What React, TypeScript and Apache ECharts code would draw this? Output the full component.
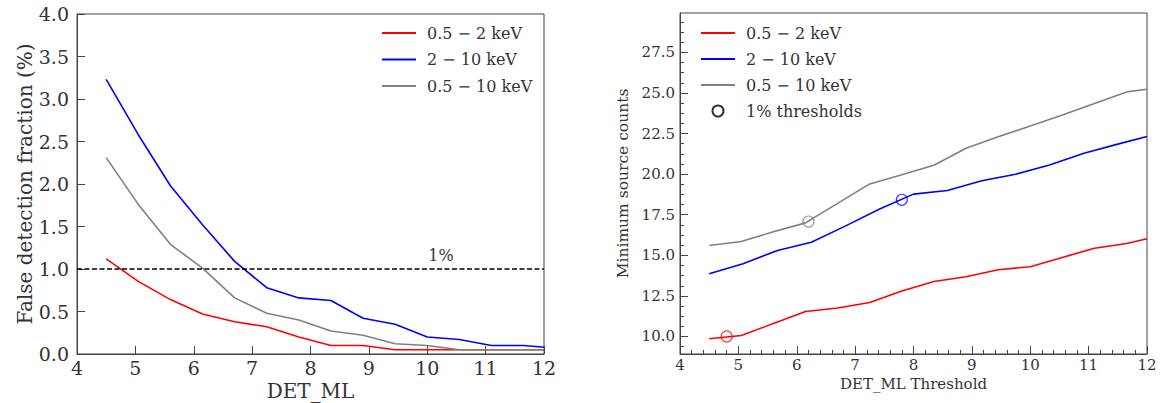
import React, { useEffect, useRef } from "react";
import * as echarts from "echarts";

// ---- Data (left panel: false detection fraction, %) ----
const xGrid = [4.5, 5.05, 5.6, 6.15, 6.7, 7.25, 7.8, 8.35, 8.9, 9.45, 10.0, 10.55, 11.1, 11.65, 12.0];
const fracSoft = [1.12, 0.855, 0.64, 0.47, 0.38, 0.32, 0.2, 0.1, 0.1, 0.05, 0.05, 0.05, 0.05, 0.05, 0.05];
const fracHard = [3.23, 2.58, 1.98, 1.52, 1.09, 0.78, 0.66, 0.63, 0.42, 0.35, 0.2, 0.17, 0.1, 0.1, 0.08];
const fracFull = [2.31, 1.76, 1.29, 1.01, 0.66, 0.48, 0.4, 0.27, 0.22, 0.12, 0.1, 0.05, 0.05, 0.05, 0.05];

// ---- Data (right panel: minimum source counts) ----
const xGridHard = [4.5, 5.08, 5.67, 6.25, 6.83, 7.42, 8.0, 8.58, 9.17, 9.75, 10.33, 10.92, 11.5, 12.0];
const cntSoft = [9.86, 10.06, 10.8, 11.54, 11.75, 12.09, 12.8, 13.39, 13.68, 14.11, 14.3, 14.87, 15.44, 15.73, 16.02];
const cntHard = [13.86, 14.48, 15.3, 15.81, 16.8, 17.85, 18.77, 18.99, 19.59, 20.0, 20.57, 21.29, 21.85, 22.32];
const cntFull = [15.6, 15.85, 16.45, 17.0, 18.2, 19.4, 19.97, 20.55, 21.6, 22.3, 22.97, 23.65, 24.35, 25.07, 25.23];
const thrX = [4.8, 7.8, 6.2];
const thrY = [10.0, 18.42, 17.08];

// ---- Labels / ticks ----
const names = ["0.5 \u2212 2 keV", "2 \u2212 10 keV", "0.5 \u2212 10 keV"];
const thrName = "1% thresholds";
const colors = ["#ff0000", "#0000ff", "#808080"];
const rightMajor = [10, 12.5, 15, 17.5, 20, 22.5, 25, 27.5];
const rightMinorStep = 0.625;

const FONT = "DejaVu Serif";
const TXT = "#333333";
const AX = "#444444";

const zip = (xs: number[], ys: number[]) => ys.map((y, i) => [xs[i], y]);

export default function App() {
  const ref = useRef<HTMLDivElement>(null);
  useEffect(() => {
    if (!ref.current) return;
    const chart = echarts.init(ref.current, undefined, { renderer: "svg" });

    const rightMinor: number[] = [];
    for (let v = 8.75 + rightMinorStep; v < 29.93; v += rightMinorStep) rightMinor.push(+v.toFixed(3));

    const lineS = (name: string, xi: number, xs: number[], ys: number[], c: string, extra: any = {}) => ({
      type: "line",
      name,
      xAxisIndex: xi,
      yAxisIndex: xi,
      data: zip(xs, ys),
      symbol: "none",
      showSymbol: false,
      lineStyle: { color: c, width: 1.6 },
      itemStyle: { color: c },
      z: 3,
      ...extra,
    });

    const lineLegendItems = names.map((n) => ({ name: n, itemStyle: { opacity: 0 } }));
    const legendText = { fontFamily: FONT, fontSize: 16, color: TXT, lineHeight: 18, padding: [0, 0, 0, 6] };

    chart.setOption({
      animation: false,
      backgroundColor: "#ffffff",
      textStyle: { fontFamily: FONT },
      grid: [
        { left: 77, top: 14, width: 467, height: 340, show: true, borderColor: AX, borderWidth: 1, containLabel: false, outerBoundsMode: "none" },
        { left: 680, top: 13, width: 467, height: 341, show: true, borderColor: AX, borderWidth: 1, containLabel: false, outerBoundsMode: "none" },
      ],
      xAxis: [
        {
          type: "value", gridIndex: 0, min: 4, max: 12, interval: 1,
          name: "DET_ML", nameLocation: "middle", nameGap: 27, nameMoveOverlap: false,
          nameTextStyle: { fontFamily: FONT, fontSize: 20, color: TXT },
          axisLine: { show: true, lineStyle: { color: AX, width: 1 } },
          axisTick: { show: true, inside: true, length: 8, lineStyle: { color: AX } },
          axisLabel: { fontFamily: FONT, fontSize: 19, color: TXT, margin: 4 },
          splitLine: { show: false },
        },
        {
          type: "value", gridIndex: 1, min: 4, max: 12, interval: 1,
          name: "DET_ML Threshold", nameLocation: "middle", nameGap: 21,
          nameTextStyle: { fontFamily: FONT, fontSize: 15, color: TXT },
          axisLine: { show: true, lineStyle: { color: AX, width: 1 } },
          axisTick: { show: true, inside: true, length: 8, lineStyle: { color: AX } },
          minorTick: { show: true, splitNumber: 5, length: 4, lineStyle: { color: AX } },
          axisLabel: { fontFamily: FONT, fontSize: 15, color: TXT, margin: 3 },
          splitLine: { show: false },
          minorSplitLine: { show: false },
        },
      ],
      yAxis: [
        {
          type: "value", gridIndex: 0, min: 0, max: 4, interval: 0.5, position: "left",
          name: "False detection fraction (%)", nameLocation: "middle", nameGap: 38,
          nameTextStyle: { fontFamily: FONT, fontSize: 20, color: TXT },
          axisLine: { show: true, lineStyle: { color: AX, width: 1 } },
          axisTick: { show: true, inside: true, length: 8, lineStyle: { color: AX } },
          axisLabel: { fontFamily: FONT, fontSize: 19, color: TXT, margin: 8, formatter: (v: number) => v.toFixed(1) },
          splitLine: { show: false },
        },
        {
          type: "value", gridIndex: 1, min: 8.92, max: 29.93, position: "left",
          name: "Minimum source counts", nameLocation: "middle", nameGap: 49,
          nameTextStyle: { fontFamily: FONT, fontSize: 15.5, color: TXT },
          axisLine: { show: true, lineStyle: { color: AX, width: 1 } },
          axisTick: { show: true, inside: true, length: 8, lineStyle: { color: AX }, customValues: rightMajor },
          axisLabel: {
            fontFamily: FONT, fontSize: 15, color: TXT, margin: 5, customValues: rightMajor,
            formatter: (v: number) => v.toFixed(1),
          },
          splitLine: { show: false },
        },
        {
          type: "value", gridIndex: 1, min: 8.92, max: 29.93, position: "left", offset: 0,
          axisLine: { show: false },
          axisTick: { show: true, inside: true, length: 4, lineStyle: { color: AX }, customValues: rightMinor },
          axisLabel: { show: false },
          splitLine: { show: false },
        },
      ],
      legend: [
        {
          orient: "vertical", left: 376, top: 19, itemWidth: 34, itemHeight: 14, itemGap: 8.5,
          data: lineLegendItems,
          textStyle: legendText,
          selectedMode: false,
        },
        {
          orient: "vertical", left: 695, top: 19, itemWidth: 34, itemHeight: 11, itemGap: 8,
          data: [...lineLegendItems, { name: thrName }],
          textStyle: legendText,
          selectedMode: false,
        },
      ],
      graphic: [
        {
          type: "text", x: 441, y: 255,
          style: { text: "1%", fontFamily: FONT, fontSize: 16, fill: TXT, align: "center", verticalAlign: "middle" },
        },
      ],
      series: [
        lineS(names[0], 0, xGrid, fracSoft, colors[0], {
          markLine: {
            silent: true, symbol: ["none", "none"], label: { show: false },
            lineStyle: { color: "#000000", type: [5, 2.5], width: 1.5 },
            data: [{ yAxis: 1 }],
          },
        }),
        lineS(names[1], 0, xGrid, fracHard, colors[1]),
        lineS(names[2], 0, xGrid, fracFull, colors[2]),
        lineS(names[0], 1, xGrid, cntSoft, colors[0]),
        lineS(names[1], 1, xGridHard, cntHard, colors[1]),
        lineS(names[2], 1, xGrid, cntFull, colors[2]),
        {
          type: "scatter",
          name: thrName,
          xAxisIndex: 1,
          yAxisIndex: 1,
          symbol: "circle",
          symbolSize: 11,
          itemStyle: { color: "rgba(0,0,0,0)", borderColor: "#000000", borderWidth: 1 },
          z: 4,
          data: thrX.map((x, i) => ({
            value: [x, thrY[i]],
            itemStyle: { color: "rgba(0,0,0,0)", borderColor: colors[i], borderWidth: 1.2 },
          })),
        },
      ],
    });
    return () => chart.dispose();
  }, []);
  return (
    <div
      ref={ref}
      style={{ position: "absolute", left: 0, top: 0, width: 1160, height: 403, background: "#fff" }}
    />
  );
}
